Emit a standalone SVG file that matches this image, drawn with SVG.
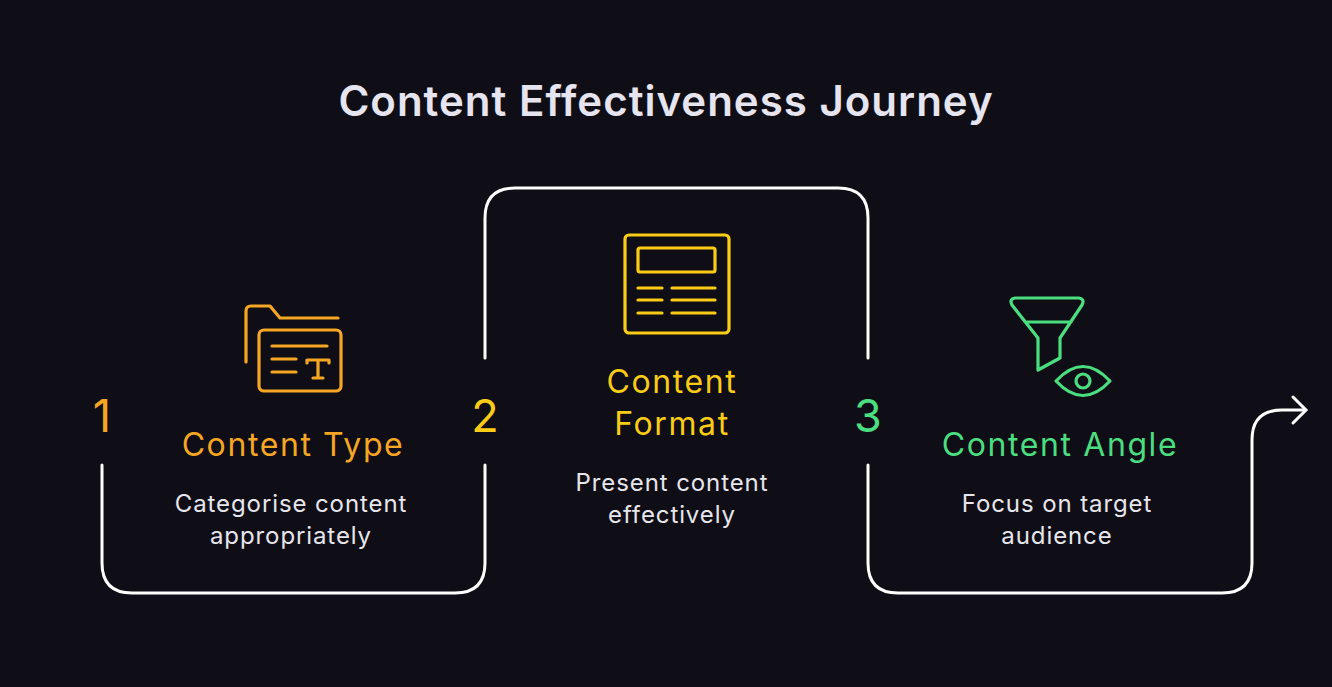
<svg xmlns="http://www.w3.org/2000/svg" width="1332" height="687" viewBox="0 0 1332 687">
<style>
.t{font-family:"Inter","Liberation Sans",sans-serif}
.ic{fill:none;stroke-width:3.2;stroke-linecap:round;stroke-linejoin:round}
.d{fill:#e6e6ec;font-size:24px;letter-spacing:0.9px;text-anchor:middle}
.h{font-size:32px;letter-spacing:1.6px;text-anchor:middle}
.n{font-size:45px;text-anchor:middle}
</style>
<rect width="1332" height="687" fill="#0f0e16"/>
<text class="t" x="666" y="116" fill="#e6e4ee" font-size="42" font-weight="600" letter-spacing="1" text-anchor="middle">Content Effectiveness Journey</text>
<g id="connectors" fill="none" stroke="#ffffff" stroke-width="3" stroke-linecap="round">
<path d="M102,465 V563 Q102,593 132,593 H455 Q485,593 485,563 V465"/>
<path d="M485,358 V218 Q485,188 515,188 H838 Q868,188 868,218 V358"/>
<path d="M868,465 V563 Q868,593 898,593 H1222 Q1252,593 1252,563 V440 Q1252,410 1282,410 H1305"/>
<path d="M1293,397 L1306,410 L1293,423"/>
</g>
<g id="step1">
<text class="t n" x="102" y="432" fill="#f5a623">1</text>
<g class="ic" stroke="#f5a623">
<path d="M246,362 V311 Q246,306 251,306 H270 L280,318 H338"/>
<rect x="259" y="330" width="82" height="61" rx="5"/>
<path d="M272,346 H327 M272,359 H296 M272,372 H296 M307,363 V360 H329 V363 M318,360 V378 M313,378 H323"/>
</g>
<text class="t h" x="293" y="456" fill="#f5a623">Content Type</text>
<text class="t d" x="291" y="512">Categorise content</text>
<text class="t d" x="291" y="544">appropriately</text>
</g>
<g id="step2">
<text class="t n" x="485" y="432" fill="#facc15">2</text>
<g class="ic" stroke="#facc15">
<rect x="625" y="235" width="104" height="98" rx="4"/>
<rect x="638" y="248" width="77" height="24" rx="2"/>
<path d="M638,288 H662 M672,288 H715 M638,300 H662 M672,300 H715 M638,313 H662 M672,313 H715"/>
</g>
<text class="t h" x="672" y="393" fill="#facc15">Content</text>
<text class="t h" x="672" y="435" fill="#facc15">Format</text>
<text class="t d" x="672" y="491">Present content</text>
<text class="t d" x="672" y="523">effectively</text>
</g>
<g id="step3">
<text class="t n" x="868" y="432" fill="#4ade80">3</text>
<g class="ic" stroke="#4ade80">
<path d="M1015,298 H1079 Q1085,299 1082,305 L1060,338 V358 L1038,370 V338 L1012,305 Q1009,299 1015,298 Z M1027,322 H1071"/>
<path d="M1056,381 Q1083,352 1110,381 Q1083,410 1056,381 Z"/>
<circle cx="1083" cy="381" r="7"/>
</g>
<text class="t h" x="1060" y="456" fill="#4ade80">Content Angle</text>
<text class="t d" x="1057" y="512">Focus on target</text>
<text class="t d" x="1057" y="544">audience</text>
</g>
</svg>
